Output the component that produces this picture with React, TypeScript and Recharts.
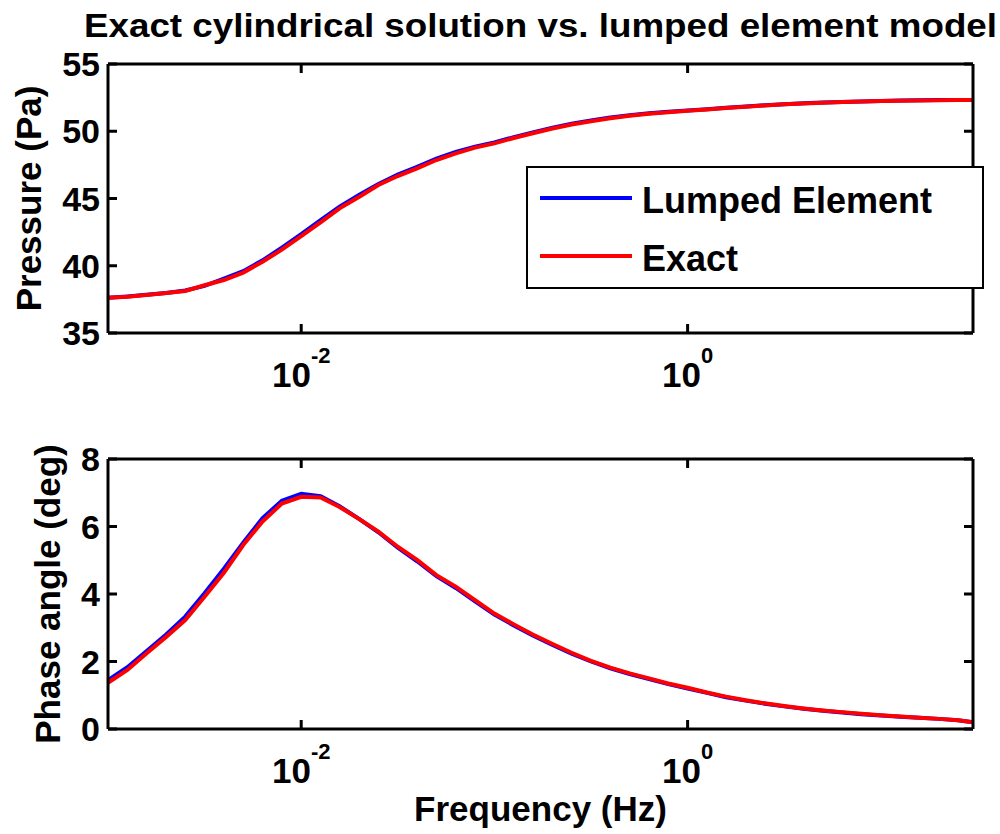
import React from 'react';
import { LineChart, Line, XAxis, YAxis, Legend, Label } from 'recharts';

// ---- data (0.1-decade steps) ----
const freqHz = [
  0.001, 0.00126, 0.00158, 0.002, 0.00251, 0.00316, 0.00398, 0.00501, 0.00631, 0.00794,
  0.01, 0.0126, 0.0158, 0.02, 0.0251, 0.0316, 0.0398, 0.0501, 0.0631, 0.0794,
  0.1, 0.126, 0.158, 0.2, 0.251, 0.316, 0.398, 0.501, 0.631, 0.794,
  1, 1.26, 1.58, 2, 2.51, 3.16, 3.98, 5.01, 6.31, 7.94,
  10, 12.6, 15.8, 20, 25.1, 30,
];
const pressureLumped = [
  37.62, 37.72, 37.84, 37.98, 38.16, 38.5, 39.04, 39.6, 40.4, 41.35,
  42.35, 43.4, 44.4, 45.28, 46.08, 46.77, 47.36, 47.96, 48.46, 48.85,
  49.17, 49.56, 49.91, 50.26, 50.56, 50.8, 51.02, 51.19, 51.33, 51.45,
  51.54, 51.64, 51.74, 51.84, 51.93, 52.01, 52.08, 52.13, 52.18, 52.22,
  52.25, 52.28, 52.3, 52.32, 52.32, 52.32,
];
const pressureExact = [
  37.62, 37.7, 37.83, 37.98, 38.12, 38.55, 38.94, 39.49, 40.3, 41.2,
  42.2, 43.22, 44.27, 45.13, 46.0, 46.67, 47.24, 47.86, 48.36, 48.78,
  49.1, 49.5, 49.85, 50.2, 50.5, 50.75, 50.97, 51.15, 51.3, 51.42,
  51.52, 51.62, 51.72, 51.82, 51.92, 52.0, 52.07, 52.12, 52.17, 52.21,
  52.24, 52.27, 52.29, 52.31, 52.32, 52.32,
];
const phaseLumped = [
  1.45, 1.83, 2.3, 2.8, 3.33, 4.02, 4.75, 5.52, 6.25, 6.76,
  6.97, 6.9, 6.6, 6.22, 5.83, 5.37, 4.97, 4.53, 4.18, 3.78,
  3.39, 3.07, 2.77, 2.49, 2.23, 2.0, 1.8, 1.63, 1.48, 1.33,
  1.2, 1.07, 0.94, 0.84, 0.75, 0.67, 0.6, 0.54, 0.49, 0.44,
  0.4, 0.36, 0.33, 0.3, 0.26, 0.2,
];
const phaseExact = [
  1.37, 1.75, 2.24, 2.73, 3.23, 3.92, 4.63, 5.45, 6.15, 6.68,
  6.88, 6.86, 6.58, 6.22, 5.85, 5.4, 5.01, 4.56, 4.22, 3.82,
  3.42, 3.1, 2.8, 2.52, 2.26, 2.02, 1.82, 1.65, 1.5, 1.35,
  1.22, 1.08, 0.96, 0.85, 0.76, 0.68, 0.61, 0.55, 0.5, 0.45,
  0.41, 0.37, 0.33, 0.3, 0.26, 0.2,
];
const freqDomain = [0.001, 30];
const freqTicks = [0.01, 1];
const pressureDomain = [35, 55];
const pressureTicks = [35, 40, 45, 50, 55];
const phaseDomain = [0, 8];
const phaseTicks = [0, 2, 4, 6, 8];
const seriesNames = ['Lumped Element', 'Exact'];
const seriesColors = ['#0000ff', '#ff0000'];
const titleText = 'Exact cylindrical solution vs. lumped element model';
const pressureLabel = 'Pressure (Pa)';
const phaseLabel = 'Phase angle (deg)';
const freqLabel = 'Frequency (Hz)';

const pressureRows = freqHz.map((f, i) => ({ f, lumped: pressureLumped[i], exact: pressureExact[i] }));
const phaseRows = freqHz.map((f, i) => ({ f, lumped: phaseLumped[i], exact: phaseExact[i] }));

// ---- styling ----
const FONT = '"Liberation Sans", Arial, Helvetica, sans-serif';
const TL = 9;
const AXW = 3;
const LW = 4;

const expOf = (v: number) => String(Math.round(Math.log10(v)));

const BottomTick = (props: any) => {
  const { x, y, payload } = props;
  return (
    <g>
      <line x1={x} x2={x} y1={y} y2={y - TL} stroke="#000" strokeWidth={AXW} />
      <text x={x} y={y + 54} textAnchor="middle" fontFamily={FONT} fontWeight="bold" fill="#000">
        <tspan fontSize={35}>10</tspan>
        <tspan fontSize={22} dy={-24}>{expOf(payload.value)}</tspan>
      </text>
    </g>
  );
};
const TopTick = (props: any) => {
  const { x, y } = props;
  return <line x1={x} x2={x} y1={y} y2={y + TL} stroke="#000" strokeWidth={AXW} />;
};
const LeftTick = (props: any) => {
  const { x, y, payload } = props;
  return (
    <g>
      <line x1={x} x2={x + TL} y1={y} y2={y} stroke="#000" strokeWidth={AXW} />
      <text x={x - 8} y={y} dy="0.36em" textAnchor="end" fontFamily={FONT} fontWeight="bold" fontSize={34} fill="#000">
        {payload.value}
      </text>
    </g>
  );
};
const RightTick = (props: any) => {
  const { x, y } = props;
  return <line x1={x} x2={x - TL} y1={y} y2={y} stroke="#000" strokeWidth={AXW} />;
};

const makeYLabel = (text: string, bx: number) => (props: any) => {
  const vb = props.viewBox || { x: 0, y: 0, width: 0, height: 0 };
  const cy = vb.y + vb.height / 2;
  return (
    <text x={bx} y={cy} transform={`rotate(-90, ${bx}, ${cy})`} textAnchor="middle"
      fontFamily={FONT} fontWeight="bold" fontSize={35} fill="#000">{text}</text>
  );
};
const TitleLabel = (props: any) => {
  const vb = props.viewBox || { x: 0, y: 0, width: 0, height: 0 };
  return (
    <text x={vb.x + vb.width / 2} y={vb.y - 26} textAnchor="middle" fontFamily={FONT} fontWeight="bold"
      fontSize={34} fill="#000" textLength={913} lengthAdjust="spacingAndGlyphs">{titleText}</text>
  );
};
const XLabel = (props: any) => {
  const vb = props.viewBox || { x: 0, y: 0, width: 0, height: 0 };
  return (
    <text x={vb.x + vb.width / 2} y={vb.y + 92} textAnchor="middle" fontFamily={FONT} fontWeight="bold"
      fontSize={35} fill="#000">{freqLabel}</text>
  );
};

const LegendBox = (props: any) => {
  const raw = props.payload || [];
  const payload = [...raw].sort((a: any, b: any) => seriesNames.indexOf(a.value) - seriesNames.indexOf(b.value));
  return (
    <svg width={458} height={123} style={{ display: 'block', overflow: 'visible' }}>
      <rect x={1} y={1} width={456} height={121} fill="#fff" stroke="#000" strokeWidth={2} />
      {payload.map((p: any, i: number) => (
        <g key={i}>
          <line x1={14} x2={106} y1={32 + 58 * i} y2={32 + 58 * i} stroke={p.color} strokeWidth={LW} />
          <text x={116} y={47 + 58 * i} fontFamily={FONT} fontWeight="bold" fontSize={36} fill="#000">{p.value}</text>
        </g>
      ))}
    </svg>
  );
};

const commonX = {
  type: 'number' as const,
  dataKey: 'f',
  scale: 'log' as const,
  domain: freqDomain,
  allowDataOverflow: true,
  ticks: freqTicks,
  interval: 0 as const,
  tickSize: 0,
  tickMargin: 0,
  tickLine: false,
  axisLine: { stroke: '#000', strokeWidth: AXW },
};

export default function App() {
  return (
    <div style={{ position: 'absolute', left: 0, top: 0, width: 1000, height: 834, background: '#fff' }}>
      <div style={{ position: 'absolute', left: 0, top: 0 }}>
        <LineChart width={1000} height={400} data={pressureRows} margin={{ top: 63, right: 26, bottom: 0, left: 0 }}>
          <XAxis xAxisId="b" orientation="bottom" height={67} {...commonX} tick={<BottomTick />} />
          <XAxis xAxisId="t" orientation="top" height={1} {...commonX} tick={<TopTick />}>
            <Label content={TitleLabel} />
          </XAxis>
          <YAxis yAxisId="l" orientation="left" width={108} type="number" domain={pressureDomain} ticks={pressureTicks}
            interval={0} allowDataOverflow tickSize={0} tickMargin={0} tickLine={false}
            axisLine={{ stroke: '#000', strokeWidth: AXW }} tick={<LeftTick />}>
            <Label content={makeYLabel(pressureLabel, 41)} />
          </YAxis>
          <YAxis yAxisId="r" orientation="right" width={1} type="number" domain={pressureDomain} ticks={pressureTicks}
            interval={0} allowDataOverflow tickSize={0} tickMargin={0} tickLine={false}
            axisLine={{ stroke: '#000', strokeWidth: AXW }} tick={<RightTick />} />
          <Line xAxisId="b" yAxisId="l" type="linear" dataKey="lumped" name={seriesNames[0]} stroke={seriesColors[0]}
            strokeWidth={LW} dot={false} isAnimationActive={false} />
          <Line xAxisId="b" yAxisId="l" type="linear" dataKey="exact" name={seriesNames[1]} stroke={seriesColors[1]}
            strokeWidth={LW} dot={false} isAnimationActive={false} />
          <Legend layout="vertical" align="center" verticalAlign="middle" width={458} height={123}
            wrapperStyle={{ left: 526, top: 166, width: 458, height: 123 }} content={<LegendBox />} />
        </LineChart>
      </div>
      <div style={{ position: 'absolute', left: 0, top: 400 }}>
        <LineChart width={1000} height={434} data={phaseRows} margin={{ top: 58, right: 26, bottom: 0, left: 0 }}>
          <XAxis xAxisId="b" orientation="bottom" height={105} {...commonX} tick={<BottomTick />}>
            <Label content={XLabel} />
          </XAxis>
          <XAxis xAxisId="t" orientation="top" height={1} {...commonX} tick={<TopTick />} />
          <YAxis yAxisId="l" orientation="left" width={108} type="number" domain={phaseDomain} ticks={phaseTicks}
            interval={0} allowDataOverflow tickSize={0} tickMargin={0} tickLine={false}
            axisLine={{ stroke: '#000', strokeWidth: AXW }} tick={<LeftTick />}>
            <Label content={makeYLabel(phaseLabel, 60)} />
          </YAxis>
          <YAxis yAxisId="r" orientation="right" width={1} type="number" domain={phaseDomain} ticks={phaseTicks}
            interval={0} allowDataOverflow tickSize={0} tickMargin={0} tickLine={false}
            axisLine={{ stroke: '#000', strokeWidth: AXW }} tick={<RightTick />} />
          <Line xAxisId="b" yAxisId="l" type="linear" dataKey="lumped" name={seriesNames[0]} stroke={seriesColors[0]}
            strokeWidth={LW} dot={false} isAnimationActive={false} />
          <Line xAxisId="b" yAxisId="l" type="linear" dataKey="exact" name={seriesNames[1]} stroke={seriesColors[1]}
            strokeWidth={LW} dot={false} isAnimationActive={false} />
        </LineChart>
      </div>
    </div>
  );
}
